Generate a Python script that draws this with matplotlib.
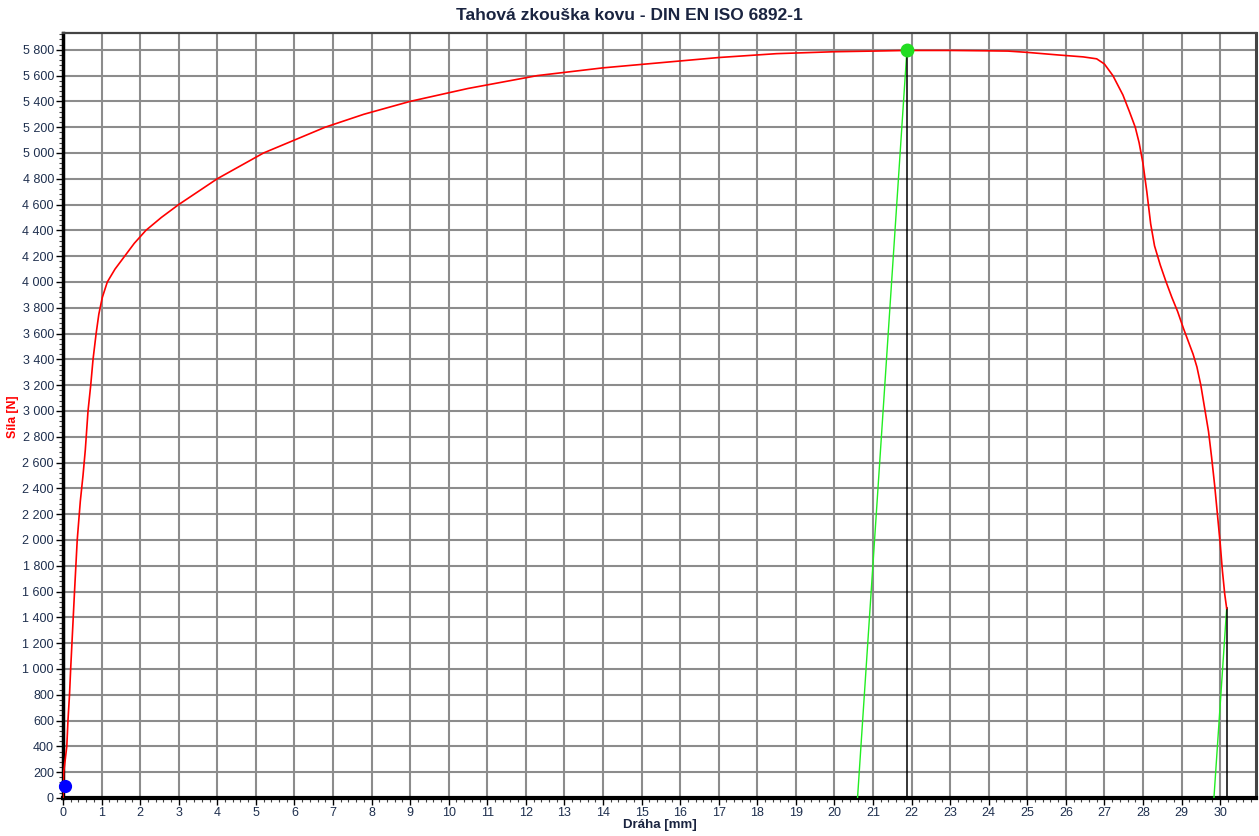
import matplotlib
matplotlib.use("Agg")
import matplotlib.pyplot as plt
from matplotlib.ticker import MultipleLocator, FixedLocator

plt.rcParams['font.family'] = ['Liberation Sans', 'DejaVu Sans']

# ---- data ----
path_mm = [0.0, 0.02, 0.10, 0.13, 0.17, 0.20, 0.25, 0.30, 0.37, 0.45, 0.52, 0.58, 0.65,
           0.72, 0.78, 0.86, 0.93, 1.02, 1.15, 1.35, 1.60, 1.85, 2.15, 2.55, 3.00, 3.50,
           4.00, 4.60, 5.20, 6.00, 6.80, 7.80, 9.00, 10.50, 12.30, 14.00, 15.50, 17.00,
           18.50, 20.00, 21.00, 21.88, 23.00, 24.00, 24.50, 25.00, 25.80, 26.45, 26.80,
           27.00, 27.22, 27.48, 27.65, 27.80, 27.90, 28.00, 28.10, 28.20, 28.30, 28.45,
           28.60, 28.75, 28.90, 29.05, 29.20, 29.30, 29.40, 29.50, 29.60, 29.70, 29.78,
           29.86, 29.93, 30.00, 30.06, 30.12, 30.17]
force_N = [0, 200, 400, 600, 800, 1000, 1300, 1600, 2000, 2300, 2500, 2700, 3000,
           3200, 3400, 3600, 3750, 3880, 4000, 4100, 4200, 4300, 4400, 4500, 4600, 4700,
           4800, 4900, 5000, 5100, 5200, 5300, 5400, 5500, 5600, 5660, 5700, 5740,
           5770, 5785, 5790, 5795, 5795, 5792, 5790, 5780, 5760, 5745, 5730,
           5690, 5600, 5450, 5320, 5200, 5080, 4920, 4700, 4450, 4280, 4130,
           4000, 3880, 3770, 3640, 3520, 3440, 3340, 3200, 3020, 2840, 2640,
           2420, 2200, 1980, 1760, 1580, 1470]

# markers
fmax_x, fmax_y = 21.88, 5795
start_x, start_y = 0.06, 95
break_x, break_y = 30.17, 1470
# elastic unloading lines (green): foot positions
fmax_foot_x = 20.60
break_foot_x = 29.84

y_ticks = list(range(0, 5801, 200))
y_tick_labels = ["{:,}".format(v).replace(",", " ") for v in y_ticks]
x_ticks = list(range(0, 31))
x_tick_labels = [str(v) for v in x_ticks]

title = "Tahová zkouška kovu - DIN EN ISO 6892-1"
xlabel = "Dráha [mm]"
ylabel = "Síla [N]"

# ---- figure ----
fig = plt.figure(figsize=(12.59, 8.36), dpi=100)
ax = fig.add_axes([0.050, 0.0455, 0.9476, 0.915])

ax.set_xlim(0, 30.93)
ax.set_ylim(0, 5930)

ax.plot(path_mm, force_N, color='#ff0000', lw=1.2, zorder=4)

ax.plot([fmax_foot_x, fmax_x], [0, fmax_y], color='#22ee22', lw=1.0, zorder=3)
ax.plot([fmax_x, fmax_x], [0, fmax_y], color='black', lw=1.1, zorder=3)
ax.plot([break_foot_x, break_x], [0, break_y], color='#22ee22', lw=1.0, zorder=3)
ax.plot([break_x, break_x], [0, break_y], color='black', lw=1.1, zorder=3)

ax.plot([fmax_x], [fmax_y], 'o', ms=9, color='#22dd22', mec='#22dd22', zorder=6, clip_on=False)
ax.plot([start_x], [start_y], 'o', ms=8.5, color='#0000ff', mec='#0000ff', zorder=6, clip_on=False)

ax.yaxis.set_major_locator(FixedLocator(y_ticks))
ax.set_yticklabels(y_tick_labels)
ax.yaxis.set_minor_locator(MultipleLocator(40))
ax.xaxis.set_major_locator(FixedLocator(x_ticks))
ax.set_xticklabels(x_tick_labels)
ax.xaxis.set_minor_locator(MultipleLocator(0.2))

lab_col = '#1e2f4e'
ax.tick_params(axis='both', which='major', direction='out', length=5, width=1.0,
               color='black', labelsize=9, labelcolor=lab_col, pad=1.5)
ax.tick_params(axis='both', which='minor', direction='out', length=3, width=0.8, color='#444444')

ax.grid(True, which='major', color='#8c8c8c', lw=1.5, zorder=1)
ax.set_axisbelow(True)

ax.spines['left'].set_linewidth(2.5)
ax.spines['left'].set_color('black')
ax.spines['bottom'].set_linewidth(3.0)
ax.spines['bottom'].set_color('black')
ax.spines['top'].set_linewidth(1.6)
ax.spines['top'].set_color('#444444')
ax.spines['right'].set_linewidth(2.2)
ax.spines['right'].set_color('#444444')

fig.text(0.5, 0.982, title, ha='center', va='center', fontsize=12.5, fontweight='bold', color='#1a2440')
ax.set_xlabel(xlabel, fontsize=9.5, fontweight='bold', color='#1a2440', labelpad=0)
fig.text(0.0105, 0.501, ylabel, ha='center', va='center', rotation=90, fontsize=8.8,
         fontweight='bold', color='#ff0000')

fig.savefig('out.png', dpi=100)
